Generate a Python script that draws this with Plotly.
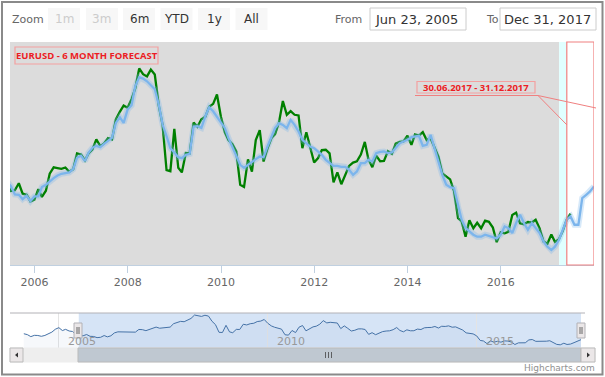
import plotly.graph_objects as go
import pandas as pd

# ---------------- data (monthly closes, month-end) ----------------
actual_start = "2004-02-29"
actual_2004 = [1.2480, 1.2316, 1.1965, 1.2195, 1.2168, 1.2022, 1.2175, 1.2411, 1.2764, 1.3270, 1.3555]
actual_2005 = [1.3040, 1.3256, 1.2962, 1.2874, 1.2297, 1.2101, 1.2124, 1.2336, 1.2023, 1.1992, 1.1790, 1.1843]
actual_2006 = [1.2159, 1.1926, 1.2113, 1.2623, 1.2814, 1.2793, 1.2767, 1.2810, 1.2682, 1.2758, 1.3235, 1.3200]
actual_2007 = [1.3020, 1.3231, 1.3356, 1.3656, 1.3452, 1.3532, 1.3695, 1.3653, 1.4258, 1.4483, 1.4668, 1.4604]
actual_2008 = [1.4864, 1.5184, 1.5788, 1.5612, 1.5546, 1.5751, 1.5602, 1.4672, 1.4092, 1.2730, 1.2698, 1.3971]
actual_2009 = [1.2802, 1.2662, 1.3247, 1.3231, 1.4159, 1.4034, 1.4257, 1.4334, 1.4636, 1.4721, 1.5003, 1.4332]
actual_2010 = [1.3866, 1.3632, 1.3511, 1.3292, 1.2292, 1.2229, 1.3052, 1.2683, 1.3633, 1.3933, 1.2990, 1.3384]
actual_2011 = [1.3693, 1.3811, 1.4167, 1.4806, 1.4394, 1.4502, 1.4393, 1.4373, 1.3391, 1.3866, 1.3442, 1.2960]
actual_2012 = [1.3094, 1.3331, 1.3343, 1.3233, 1.2365, 1.2663, 1.2307, 1.2578, 1.2858, 1.2958, 1.2997, 1.3196]
actual_2013 = [1.3578, 1.3060, 1.2819, 1.3168, 1.2999, 1.3010, 1.3300, 1.3221, 1.3526, 1.3581, 1.3590, 1.3764]
actual_2014 = [1.3488, 1.3803, 1.3770, 1.3871, 1.3633, 1.3690, 1.3391, 1.3132, 1.2631, 1.2527, 1.2452, 1.2098]
actual_2015 = [1.1289, 1.1197, 1.0731, 1.1224, 1.0986, 1.1150, 1.0983, 1.1211, 1.1177, 1.1004, 1.0566, 1.0862]
actual_2016 = [1.0832, 1.0873, 1.1380, 1.1453, 1.1131, 1.1104, 1.1171, 1.1157, 1.1240, 1.0980, 1.0588, 1.0517]
actual_2017 = [1.0799, 1.0575, 1.0652, 1.0897, 1.1241, 1.1426]

model_start = "2005-05-31"
model_2005 = [1.238, 1.225, 1.200, 1.199, 1.186, 1.196, 1.180, 1.194]
model_2006 = [1.194, 1.222, 1.229, 1.240, 1.249, 1.257, 1.262, 1.264, 1.266, 1.276, 1.310, 1.316]
model_2007 = [1.300, 1.325, 1.340, 1.346, 1.342, 1.352, 1.360, 1.370, 1.415, 1.432, 1.415, 1.455]
model_2008 = [1.468, 1.525, 1.552, 1.548, 1.540, 1.528, 1.516, 1.470, 1.410, 1.375, 1.339, 1.326]
model_2009 = [1.312, 1.309, 1.319, 1.322, 1.404, 1.405, 1.400, 1.435, 1.462, 1.450, 1.434, 1.419]
model_2010 = [1.399, 1.369, 1.339, 1.316, 1.289, 1.280, 1.289, 1.299, 1.306, 1.314, 1.312, 1.344]
model_2011 = [1.374, 1.399, 1.414, 1.409, 1.399, 1.424, 1.409, 1.389, 1.364, 1.354, 1.344, 1.339]
model_2012 = [1.329, 1.319, 1.304, 1.294, 1.286, 1.286, 1.283, 1.283, 1.274, 1.259, 1.269, 1.294]
model_2013 = [1.294, 1.304, 1.299, 1.324, 1.328, 1.329, 1.324, 1.326, 1.339, 1.354, 1.359, 1.364]
model_2014 = [1.372, 1.374, 1.376, 1.346, 1.349, 1.379, 1.339, 1.294, 1.259, 1.229, 1.222, 1.219]
model_2015 = [1.164, 1.124, 1.099, 1.089, 1.079, 1.073, 1.073, 1.079, 1.076, 1.073, 1.068, 1.079]
model_2016 = [1.104, 1.099, 1.084, 1.114, 1.139, 1.114, 1.094, 1.114, 1.099, 1.084, 1.059, 1.043]
model_2017 = [1.033, 1.043, 1.063, 1.094, 1.124, 1.134, 1.109, 1.109, 1.189, 1.199, 1.209, 1.224]

main_tick_years = ["2006", "2008", "2010", "2012", "2014", "2016"]
nav_tick_years = ["2005", "2010", "2015"]
zoom_buttons = ["1m", "3m", "6m", "YTD", "1y", "All"]
zoom_enabled = [False, False, True, True, True, True]
from_date, to_date = "Jun 23, 2005", "Dec 31, 2017"
view_start, view_end = "2005-06-23", "2017-12-31"
band_end, forecast_start = "2017-04-02", "2017-06-01"
title_text = "EURUSD - 6 MONTH FORECAST"
period_text = "30.06.2017 - 31.12.2017"

actual = (actual_2004 + actual_2005 + actual_2006 + actual_2007 + actual_2008 + actual_2009 +
          actual_2010 + actual_2011 + actual_2012 + actual_2013 + actual_2014 + actual_2015 +
          actual_2016 + actual_2017)
model = (model_2005 + model_2006 + model_2007 + model_2008 + model_2009 + model_2010 +
         model_2011 + model_2012 + model_2013 + model_2014 + model_2015 + model_2016 + model_2017)


def month_ends(start, n):
    try:
        d = pd.date_range(start, periods=n, freq="ME")
    except Exception:
        d = pd.date_range(start, periods=n, freq="M")
    return [x.strftime("%Y-%m-%d") for x in d]


actual_dates = month_ends(actual_start, len(actual))
model_dates = month_ends(model_start, len(model))

W, H = 605, 377
def px(x): return x / W
def py(y): return 1 - y / H

fig = go.Figure()
fig.add_trace(go.Scatter(x=actual_dates, y=actual, mode="lines",
                         line=dict(color="#008000", width=2.3), xaxis="x", yaxis="y",
                         hoverinfo="skip"))
fig.add_trace(go.Scatter(x=model_dates, y=model, mode="lines",
                         line=dict(color="rgba(124,181,236,0.3)", width=6), xaxis="x", yaxis="y",
                         hoverinfo="skip"))
fig.add_trace(go.Scatter(x=model_dates, y=model, mode="lines",
                         line=dict(color="#7cb5ec", width=2.3), xaxis="x", yaxis="y",
                         hoverinfo="skip"))
# navigator series
fig.add_trace(go.Scatter(x=actual_dates, y=actual, mode="lines",
                         line=dict(color="#4572A7", width=1), fill="tozeroy",
                         fillcolor="rgba(69,114,167,0.05)", xaxis="x2", yaxis="y2",
                         hoverinfo="skip"))

shapes = []
# outer frame
shapes.append(dict(type="rect", xref="paper", yref="paper", x0=px(2), x1=px(602.5), y0=py(374.5), y1=py(2),
                   line=dict(color="#8a8a8a", width=2), fillcolor="rgba(0,0,0,0)"))
# plot bands
shapes.append(dict(type="rect", xref="x", yref="y domain", x0=view_start, x1=band_end, y0=0, y1=1,
                   fillcolor="#dcdcdc", line=dict(width=0), layer="below"))
shapes.append(dict(type="rect", xref="x", yref="y domain", x0=band_end, x1=forecast_start, y0=0, y1=1,
                   fillcolor="#e0ffff", line=dict(width=0), layer="below"))
shapes.append(dict(type="rect", xref="x", yref="y domain", x0=forecast_start, x1=view_end, y0=0, y1=1,
                   fillcolor="rgba(0,0,0,0)", line=dict(color="#f08080", width=1.2)))
# title box
shapes.append(dict(type="rect", xref="paper", yref="paper", x0=px(15), x1=px(158), y0=py(64), y1=py(47),
                   line=dict(color="#f4a0a0", width=1.2), fillcolor="rgba(0,0,0,0)"))
# period callout
shapes.append(dict(type="rect", xref="paper", yref="paper", x0=px(417), x1=px(535), y0=py(93), y1=py(81.5),
                   line=dict(color="#f4a0a0", width=1.2), fillcolor="rgba(0,0,0,0)"))
for (xa, ya, xb, yb) in [(415, 95.5, 538, 95.5), (538, 95.5, 567, 125), (538, 95.5, 596, 108)]:
    shapes.append(dict(type="line", xref="paper", yref="paper", x0=px(xa), y0=py(ya), x1=px(xb), y1=py(yb),
                       line=dict(color="#f08080", width=1)))
# range selector buttons
btn_x = [48, 86, 123, 160.5, 198, 235.5]
for bx in btn_x:
    shapes.append(dict(type="rect", xref="paper", yref="paper", x0=px(bx), x1=px(bx + 32), y0=py(30), y1=py(8),
                       fillcolor="#f7f7f7", line=dict(width=0)))
# date input boxes
for (x0, x1) in [(370, 466), (500, 596)]:
    shapes.append(dict(type="rect", xref="paper", yref="paper", x0=px(x0), x1=px(x1), y0=py(30), y1=py(8),
                       fillcolor="white", line=dict(color="#cccccc", width=1)))
# navigator selection & outline
shapes.append(dict(type="rect", xref="x2", yref="y2 domain", x0=view_start, x1=actual_dates[-1], y0=0, y1=1,
                   fillcolor="rgba(120,165,225,0.3)", line=dict(width=0), layer="below"))
shapes.append(dict(type="line", xref="paper", yref="paper", x0=px(10), x1=px(585), y0=py(313), y1=py(313),
                   line=dict(color="#b2b1b6", width=1)))
# handles
for hx in [74, 577]:
    shapes.append(dict(type="rect", xref="paper", yref="paper", x0=px(hx), x1=px(hx + 8), y0=py(338), y1=py(323),
                       fillcolor="#ebe7e8", line=dict(color="#b2b1b6", width=1)))
    for lx in [hx + 3, hx + 5]:
        shapes.append(dict(type="line", xref="paper", yref="paper", x0=px(lx), x1=px(lx), y0=py(334), y1=py(327),
                           line=dict(color="#666", width=1)))
# scrollbar
shapes.append(dict(type="rect", xref="paper", yref="paper", x0=px(10), x1=px(595), y0=py(362), y1=py(348),
                   fillcolor="#eeeeee", line=dict(color="#eeeeee", width=1)))
shapes.append(dict(type="rect", xref="paper", yref="paper", x0=px(78), x1=px(581), y0=py(362), y1=py(348),
                   fillcolor="#bfc8d1", line=dict(color="#bbbbbb", width=1)))
for gx in [325.5, 328.5, 331.5]:
    shapes.append(dict(type="line", xref="paper", yref="paper", x0=px(gx), x1=px(gx), y0=py(358), y1=py(352),
                       line=dict(color="#444", width=0.8)))
for (ax0, ax1) in [(10, 23), (581, 595)]:
    shapes.append(dict(type="rect", xref="paper", yref="paper", x0=px(ax0), x1=px(ax1), y0=py(362), y1=py(348),
                       fillcolor="#ebe7e8", line=dict(color="#bbbbbb", width=1)))
shapes.append(dict(type="path", xref="paper", yref="paper",
                   path=f"M {px(15)} {py(355)} L {px(18)} {py(352.5)} L {px(18)} {py(357.5)} Z",
                   fillcolor="#333", line=dict(width=0)))
shapes.append(dict(type="path", xref="paper", yref="paper",
                   path=f"M {px(590)} {py(355)} L {px(587)} {py(352.5)} L {px(587)} {py(357.5)} Z",
                   fillcolor="#333", line=dict(width=0)))

ann = []
ui = "DejaVu Sans"
ann.append(dict(x=px(10), y=py(19), xref="paper", yref="paper", text="Zoom", showarrow=False,
                xanchor="left", yanchor="middle", font=dict(family=ui, size=11, color="#666")))
for bx, lab, en in zip(btn_x, zoom_buttons, zoom_enabled):
    ann.append(dict(x=px(bx + 16), y=py(19), xref="paper", yref="paper", text=lab, showarrow=False,
                    xanchor="center", yanchor="middle",
                    font=dict(family=ui, size=12, color="#333" if en else "#cccccc")))
ann.append(dict(x=px(333), y=py(19), xref="paper", yref="paper", text="From", showarrow=False,
                xanchor="left", yanchor="middle", font=dict(family=ui, size=11, color="#666")))
ann.append(dict(x=px(484), y=py(19), xref="paper", yref="paper", text="To", showarrow=False,
                xanchor="left", yanchor="middle", font=dict(family=ui, size=11, color="#666")))
ann.append(dict(x=px(416), y=py(19), xref="paper", yref="paper", text=from_date, showarrow=False,
                xanchor="center", yanchor="middle", font=dict(family=ui, size=13, color="#333")))
ann.append(dict(x=px(547), y=py(19), xref="paper", yref="paper", text=to_date, showarrow=False,
                xanchor="center", yanchor="middle", font=dict(family=ui, size=13, color="#333")))
ann.append(dict(x=px(86.5), y=py(55.5), xref="paper", yref="paper", text="<b>" + title_text + "</b>",
                showarrow=False, xanchor="center", yanchor="middle",
                font=dict(family="Open Sans", size=9.5, color="#ec1c24")))
ann.append(dict(x=px(476), y=py(87.3), xref="paper", yref="paper", text="<b>" + period_text + "</b>",
                showarrow=False, xanchor="center", yanchor="middle",
                font=dict(family="Open Sans", size=9.5, color="#ec1c24")))
for yr in nav_tick_years:
    ann.append(dict(x=yr + "-03-01", y=py(341), xref="x2", yref="paper", text=yr, showarrow=False,
                    xanchor="left", yanchor="middle", font=dict(family=ui, size=11, color="#999")))
ann.append(dict(x=px(597), y=py(368), xref="paper", yref="paper", text="Highcharts.com", showarrow=False,
                xanchor="right", yanchor="middle", font=dict(family=ui, size=9, color="#909090")))

fig.update_layout(
    width=W, height=H, margin=dict(l=0, r=0, t=0, b=0, pad=0), autosize=False,
    paper_bgcolor="white", plot_bgcolor="white", showlegend=False,
    xaxis=dict(domain=[px(10), px(594)], type="date", range=[view_start, view_end], anchor="y",
               tickvals=[y + "-01-01" for y in main_tick_years], ticktext=main_tick_years,
               ticks="outside", ticklen=7, tickcolor="#C0D0E0", tickwidth=1,
               showline=True, linecolor="#C0D0E0", linewidth=1, showgrid=False, zeroline=False,
               tickfont=dict(family=ui, size=11, color="#666")),
    yaxis=dict(domain=[py(265), py(42)], range=[0.988, 1.658], visible=False, anchor="x"),
    xaxis2=dict(domain=[px(10), px(581)], type="date", range=["2003-10-31", actual_dates[-1]], anchor="y2",
                tickvals=[y + "-01-01" for y in nav_tick_years], showticklabels=False,
                showgrid=True, gridcolor="#e4e4e4", gridwidth=1, zeroline=False, showline=False, ticks=""),
    yaxis2=dict(domain=[py(348), py(313)], range=[0.995, 1.615], visible=False, anchor="x2"),
    shapes=shapes, annotations=ann,
)
fig.write_html("out.html", config={"displayModeBar": False},
               post_script="document.body.style.margin='0px';document.body.style.padding='0px';")
